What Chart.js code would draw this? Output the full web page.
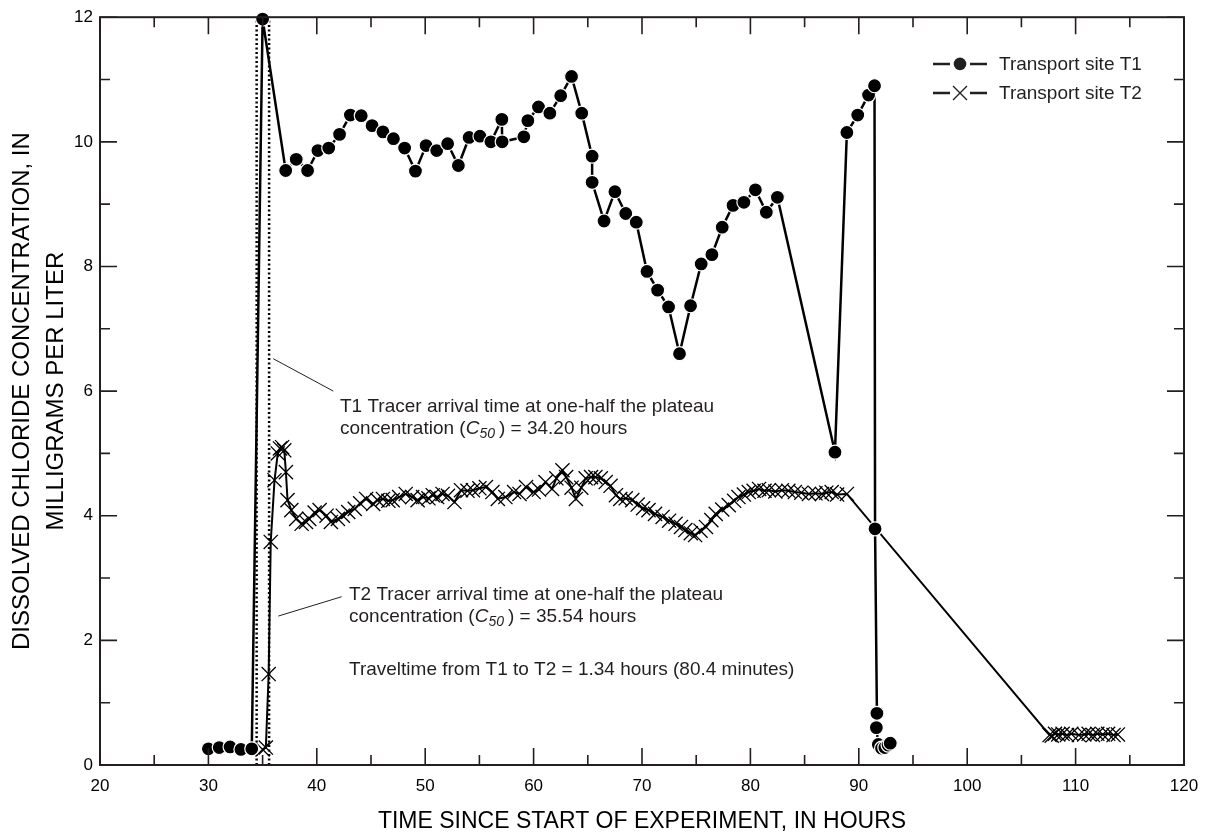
<!DOCTYPE html>
<html>
<head>
<meta charset="utf-8">
<title>Dissolved chloride concentration, transport sites T1 and T2</title>
<script src="https://cdn.jsdelivr.net/npm/chart.js@4.4.1/dist/chart.umd.min.js"></script>
<style>
  html, body { margin: 0; padding: 0; background: #fff; }
  #chart { display: block; }
</style>
</head>
<body>
<canvas id="chart" width="1210" height="837"></canvas>
<script>
/* ------------------------------------------------------------
   Data
   ------------------------------------------------------------ */
const t1Hours = [
  30.0, 31.0, 32.0, 33.0, 34.0, 35.0, 37.13, 38.1, 39.15, 40.1,
  41.1, 42.1, 43.1, 44.1, 45.1, 46.1, 47.07, 48.1, 49.1, 50.08,
  51.06, 52.07, 53.06, 54.05, 55.05, 56.06, 57.07, 57.1, 59.1, 59.47,
  60.45, 61.5, 62.5, 63.5, 64.44, 65.4, 65.4, 66.5, 67.5, 68.5,
  69.47, 70.46, 71.44, 72.45, 73.46, 74.48, 75.46, 76.45, 77.4, 78.4,
  79.4, 80.46, 81.47, 82.49, 87.8, 88.9, 89.9, 90.9, 91.45, 91.5,
  91.67, 91.62, 91.8, 92.1, 92.4, 92.7, 92.9
];
const t1Chloride = [
  0.26, 0.28, 0.29, 0.25, 0.26, 11.97, 9.54, 9.72, 9.54, 9.86,
  9.9, 10.12, 10.43, 10.42, 10.26, 10.16, 10.05, 9.9, 9.53, 9.94,
  9.86, 9.97, 9.62, 10.07, 10.09, 10.0, 10.36, 10.0, 10.08, 10.34,
  10.56, 10.46, 10.74, 11.05, 10.46, 9.77, 9.35, 8.73, 9.2, 8.85,
  8.71, 7.92, 7.62, 7.35, 6.6, 7.37, 8.04, 8.19, 8.63, 8.98,
  9.03, 9.23, 8.87, 9.11, 5.02, 10.15, 10.43, 10.75, 10.9, 3.79,
  0.83, 0.6, 0.33, 0.27, 0.28, 0.32, 0.35
];

const t2Hours = [
  35.0, 35.3, 35.56, 35.75, 36.1, 36.4, 36.6, 36.8, 37.0, 37.15,
  37.3, 37.65, 38.1, 38.6, 39.0, 39.3, 39.8, 40.26, 40.9, 41.3,
  41.95, 42.4, 42.9, 43.5, 44.0, 44.55, 45.2, 45.6, 46.1, 46.6,
  47.0, 47.6, 48.2, 48.8, 49.3, 49.8, 50.3, 50.7, 51.1, 51.6,
  52.1, 52.7, 53.3, 53.9, 54.4, 55.0, 55.6, 56.2, 56.7, 57.4,
  58.2, 58.7, 59.3, 60.0, 60.5, 61.1, 61.7, 62.1, 62.66, 63.0,
  63.5, 63.9, 64.4, 64.8, 65.3, 65.7, 66.2, 66.65, 67.1, 67.6,
  68.0, 68.5, 69.1, 69.6, 70.1, 70.6, 71.2, 71.9, 72.5, 73.1,
  73.6, 74.0, 74.5, 74.9, 75.4, 75.9, 76.4, 76.8, 77.4, 78.0,
  78.5, 78.9, 79.4, 79.85, 80.3, 80.8, 81.3, 81.7, 82.3, 82.9,
  83.5, 84.1, 84.7, 85.4, 86.0, 86.6, 87.0, 87.5, 88.0, 88.9,
  107.6, 107.8, 108.1, 108.4, 108.8, 109.2, 109.6, 110.3, 110.8, 111.2,
  111.6, 112.0, 112.5, 113.0, 113.5, 113.9
];
const t2Chloride = [
  0.25, 0.28, 1.46, 3.58, 4.57, 5.0, 5.08, 5.1, 5.05, 4.7,
  4.25, 4.09, 3.95, 3.87, 3.9, 3.95, 4.05, 4.09, 4.0, 3.9,
  3.95, 4.0, 4.06, 4.11, 4.2, 4.27, 4.19, 4.25, 4.27, 4.24,
  4.25, 4.3, 4.35, 4.3, 4.25, 4.3, 4.28, 4.33, 4.3, 4.35,
  4.32, 4.22, 4.41, 4.4, 4.41, 4.44, 4.46, 4.38, 4.27, 4.3,
  4.38, 4.35, 4.46, 4.38, 4.42, 4.54, 4.43, 4.6, 4.73, 4.62,
  4.45, 4.27, 4.45, 4.6, 4.62, 4.62, 4.6, 4.54, 4.48, 4.33,
  4.27, 4.28, 4.25, 4.18, 4.12, 4.09, 4.03, 3.98, 3.92, 3.87,
  3.82, 3.77, 3.72, 3.69, 3.76, 3.82, 3.93, 4.03, 4.1, 4.17,
  4.24, 4.3, 4.34, 4.38, 4.4, 4.43, 4.4, 4.41, 4.39, 4.41,
  4.4, 4.38, 4.37, 4.35, 4.36, 4.35, 4.37, 4.38, 4.34, 4.35,
  0.48, 0.47, 0.5, 0.49, 0.5, 0.48, 0.5, 0.48, 0.49, 0.5,
  0.48, 0.5, 0.49, 0.5, 0.48, 0.49
];

// tracer arrival (C50) lines, as drawn on the figure
const c50Hours = [34.45, 35.6];

const xTicks = [20, 30, 40, 50, 60, 70, 80, 90, 100, 110, 120];
const yTicks = [0, 2, 4, 6, 8, 10, 12];

const FONT = "'Liberation Sans', Arial, Helvetica, sans-serif";
Chart.defaults.font.family = FONT;
Chart.defaults.color = "#000";

const toPoints = (xs, ys) => xs.map((x, i) => ({ x: x, y: ys[i] }));

/* ------------------------------------------------------------
   Frame with inward ticks on all four sides
   ------------------------------------------------------------ */
const frameTicks = {
    id: "frameTicks",
    afterDatasetsDraw(chart) {
        const { ctx, chartArea: a, scales: { x, y } } = chart;
        const MAJOR = 17, MINOR = 10;
        ctx.save();
        ctx.strokeStyle = "#231f20";
        ctx.lineWidth = 1.6;
        ctx.beginPath();
        const xv = x.ticks.map(t => t.value);
        xv.forEach((v, i) => {
            const px = x.getPixelForValue(v);
            ctx.moveTo(px, a.bottom); ctx.lineTo(px, a.bottom - MAJOR);
            ctx.moveTo(px, a.top); ctx.lineTo(px, a.top + MAJOR);
            if (i < xv.length - 1) {
                const pm = x.getPixelForValue((v + xv[i + 1]) / 2);
                ctx.moveTo(pm, a.bottom); ctx.lineTo(pm, a.bottom - MINOR);
                ctx.moveTo(pm, a.top); ctx.lineTo(pm, a.top + MINOR);
            }
        });
        const yv = y.ticks.map(t => t.value);
        yv.forEach((v, i) => {
            const py = y.getPixelForValue(v);
            ctx.moveTo(a.left, py); ctx.lineTo(a.left + MAJOR, py);
            ctx.moveTo(a.right, py); ctx.lineTo(a.right - MAJOR, py);
            if (i < yv.length - 1) {
                const pm = y.getPixelForValue((v + yv[i + 1]) / 2);
                ctx.moveTo(a.left, pm); ctx.lineTo(a.left + MINOR, pm);
                ctx.moveTo(a.right, pm); ctx.lineTo(a.right - MINOR, pm);
            }
        });
        ctx.stroke();
        ctx.lineWidth = 2;
        ctx.strokeRect(a.left, a.top, a.width, a.height);
        ctx.restore();
    }
};

/* ------------------------------------------------------------
   Notes, leader lines and legend
   ------------------------------------------------------------ */
const notes = [
    { x: 42.14, y: 5.66, lines: ["T1 Tracer arrival time at one-half the plateau", ["concentration (", "C", "50", ") = 34.20 hours"]] },
    { x: 42.97, y: 2.644, lines: ["T2 Tracer arrival time at one-half the plateau", ["concentration (", "C", "50", ") = 35.54 hours"]] },
    { x: 42.97, y: 1.442, lines: ["Traveltime from T1 to T2 = 1.34 hours (80.4 minutes)"] }
];
const leaders = [
    [35.98, 6.52, 41.52, 6.0],
    [36.45, 2.39, 42.29, 2.70]
];

function drawMarker(ctx, style, cx, cy) {
    if (style === "circle") {
        ctx.beginPath();
        ctx.arc(cx, cy, 6.3, 0, Math.PI * 2);
        ctx.fill();
    } else {
        const d = 7;
        ctx.lineWidth = 1.4;
        ctx.beginPath();
        ctx.moveTo(cx - d, cy - d); ctx.lineTo(cx + d, cy + d);
        ctx.moveTo(cx - d, cy + d); ctx.lineTo(cx + d, cy - d);
        ctx.stroke();
    }
}

const notesPlugin = {
    id: "notes",
    afterDraw(chart) {
        const { ctx, chartArea: a, scales: { x, y } } = chart;
        ctx.save();
        ctx.fillStyle = "#231f20";
        ctx.strokeStyle = "#231f20";

        // leader lines
        ctx.lineWidth = 1;
        leaders.forEach(l => {
            ctx.beginPath();
            ctx.moveTo(x.getPixelForValue(l[0]), y.getPixelForValue(l[1]));
            ctx.lineTo(x.getPixelForValue(l[2]), y.getPixelForValue(l[3]));
            ctx.stroke();
        });

        // note text
        ctx.textBaseline = "alphabetic";
        ctx.textAlign = "left";
        const LH = 21.7;
        notes.forEach(n => {
            const px = x.getPixelForValue(n.x);
            let py = y.getPixelForValue(n.y);
            n.lines.forEach(line => {
                if (typeof line === "string") {
                    ctx.font = "19px " + FONT;
                    ctx.fillText(line, px, py);
                } else {
                    let cx = px;
                    ctx.font = "19px " + FONT;
                    ctx.fillText(line[0], cx, py);
                    cx += ctx.measureText(line[0]).width;
                    ctx.font = "italic 19px " + FONT;
                    ctx.fillText(line[1], cx, py);
                    cx += ctx.measureText(line[1]).width;
                    ctx.font = "italic 14px " + FONT;
                    ctx.fillText(line[2], cx, py + 4);
                    cx += ctx.measureText(line[2]).width + 4;
                    ctx.font = "19px " + FONT;
                    ctx.fillText(line[3], cx, py);
                }
                py += LH;
            });
        });

        // legend
        const sets = chart.data.datasets.slice(0, 2);
        const lx = a.right - 251;
        sets.forEach((ds, i) => {
            const ly = a.top + 46.7 + i * 29;
            ctx.lineWidth = 2.5;
            ctx.beginPath();
            ctx.moveTo(lx, ly); ctx.lineTo(lx + 17, ly);
            ctx.moveTo(lx + 37, ly); ctx.lineTo(lx + 54, ly);
            ctx.stroke();
            drawMarker(ctx, ds.pointStyle, lx + 27, ly);
            ctx.font = "19px " + FONT;
            ctx.textBaseline = "middle";
            ctx.fillText(ds.label, lx + 66, ly + 1);
        });
        ctx.restore();
    }
};

/* ------------------------------------------------------------
   Chart
   ------------------------------------------------------------ */
const yMin = yTicks[0], yMax = yTicks[yTicks.length - 1];

new Chart(document.getElementById("chart"), {
    type: "scatter",
    data: {
        datasets: [
            {
                label: "Transport site T1",
                data: toPoints(t1Hours, t1Chloride),
                showLine: true,
                borderColor: "#000",
                borderWidth: 2.5,
                pointStyle: "circle",
                pointRadius: 7,
                pointBackgroundColor: "#000",
                pointBorderColor: "#fff",
                pointBorderWidth: 1.2,
                clip: false
            },
            {
                label: "Transport site T2",
                data: toPoints(t2Hours, t2Chloride),
                showLine: true,
                borderColor: "#000",
                borderWidth: 2,
                pointStyle: "crossRot",
                pointRadius: 10,
                pointBorderColor: "#000",
                pointBorderWidth: 1.3
            },
            ...c50Hours.map(h => ({
                label: "C50 " + h,
                data: [{ x: h, y: yMin }, { x: h, y: yMax }],
                showLine: true,
                borderColor: "#000",
                borderWidth: 2.5,
                borderDash: [2, 2.5],
                pointRadius: 0
            }))
        ]
    },
    options: {
        responsive: false,
        animation: false,
        devicePixelRatio: 1,
        layout: { padding: { left: 0, top: 16, right: 26, bottom: 0 } },
        plugins: {
            legend: { display: false },
            tooltip: { enabled: false }
        },
        scales: {
            x: {
                type: "linear",
                min: xTicks[0],
                max: xTicks[xTicks.length - 1],
                afterBuildTicks: s => { s.ticks = xTicks.map(v => ({ value: v })); },
                afterFit: s => { s.height = 72; },
                ticks: { font: { size: 17 }, padding: 11, maxRotation: 0 },
                grid: { drawOnChartArea: false, drawTicks: false },
                border: { display: false },
                title: {
                    display: true,
                    text: "TIME SINCE START OF EXPERIMENT, IN HOURS",
                    font: { size: 23 },
                    padding: { top: 0, bottom: 2 }
                }
            },
            y: {
                type: "linear",
                min: yMin,
                max: yMax,
                afterBuildTicks: s => { s.ticks = yTicks.map(v => ({ value: v })); },
                afterFit: s => { s.width = 100; },
                ticks: { font: { size: 17 }, padding: 7 },
                grid: { drawOnChartArea: false, drawTicks: false },
                border: { display: false },
                title: {
                    display: true,
                    text: ["DISSOLVED CHLORIDE CONCENTRATION, IN", "MILLIGRAMS PER LITER"],
                    font: { size: 24, lineHeight: 1.44 },
                    padding: { top: 5, bottom: 0 }
                }
            }
        }
    },
    plugins: [frameTicks, notesPlugin]
});
</script>
</body>
</html>
